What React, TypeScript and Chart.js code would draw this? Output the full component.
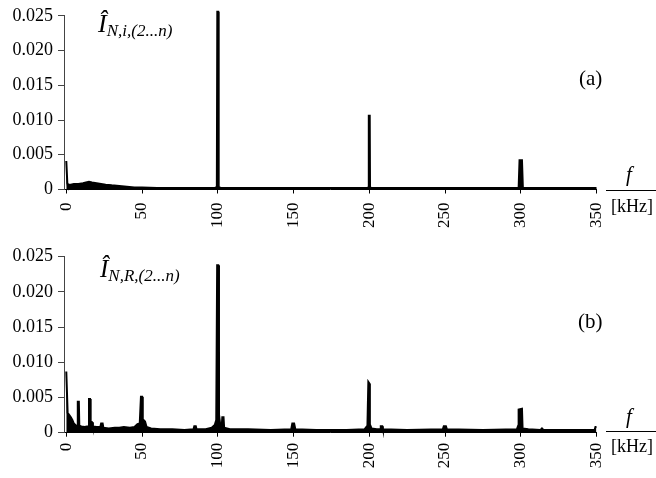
import React, { useEffect, useRef } from "react";
import { Chart, registerables } from "chart.js";

Chart.register(...registerables);

// Frequency axis (kHz) and y-axis ticks
const xTicks = [0, 50, 100, 150, 200, 250, 300, 350];
const yTicks = [0, 0.005, 0.01, 0.015, 0.02, 0.025];

// Panel (a): spectrum of I_N,i,(2...n)
const freqA = [
  0, 0.3, 0.7, 1, 3, 5, 8, 11, 13, 15,
  17, 20, 23, 26, 30, 35, 40, 45, 50, 60,
  70, 80, 90, 98, 99.4, 99.7, 100.3, 100.6, 102, 120,
  150, 180, 198, 199.5, 199.7, 200.3, 200.5, 202, 230, 260,
  290, 298.6, 299.2, 300.8, 301.4, 320, 350,
];
const ampA = [
  0.0041, 0.0041, 0.0009, 0.0007, 0.0007, 0.0008, 0.0008, 0.0009, 0.001, 0.0011,
  0.001, 0.0009, 0.0008, 0.0007, 0.0006, 0.0005, 0.0004, 0.0003, 0.0003, 0.0002,
  0.0002, 0.0002, 0.0002, 0.0002, 0.0004, 0.0256, 0.0256, 0.0004, 0.0002, 0.0002,
  0.0002, 0.0002, 0.0002, 0.0003, 0.0106, 0.0106, 0.0003, 0.0002, 0.0002, 0.0002,
  0.0002, 0.0002, 0.0042, 0.0042, 0.0002, 0.0002, 0.0002,
];

// Panel (b): spectrum of I_N,R,(2...n)
const freqB = [
  0, 0.4, 0.9, 2, 3, 4, 5, 6.5, 7.3, 7.6,
  8.3, 8.6, 10, 12, 14.6, 15, 15.7, 16.1, 17, 17.6,
  20, 22.5, 23, 24, 24.5, 28, 32, 35, 38, 42,
  45, 47, 48.5, 49.3, 50, 50.5, 52, 53, 56, 62,
  70, 78, 84, 84.5, 85.5, 86, 92, 96, 98, 99,
  99.6, 100.3, 100.8, 101.6, 102.6, 103, 103.8, 104.2, 108, 120,
  135, 148.5, 149.2, 150.4, 151.2, 165, 185, 197, 198.8, 199.4,
  200, 200.4, 201.5, 205, 207.3, 207.6, 208.6, 209, 225, 248.6,
  249.2, 250.6, 251.2, 275, 297.5, 298.3, 298.6, 300.8, 301.2, 305,
  313, 314, 315, 330, 348.8, 349.3, 350,
];
const ampB = [
  0.0087, 0.0087, 0.0028, 0.0025, 0.0022, 0.0018, 0.0013, 0.001, 0.001, 0.0044,
  0.0044, 0.001, 0.0009, 0.0008, 0.0009, 0.0048, 0.0048, 0.0016, 0.0015, 0.0009,
  0.0008, 0.0008, 0.0013, 0.0013, 0.0007, 0.0006, 0.0007, 0.0007, 0.0008, 0.0007,
  0.0008, 0.0012, 0.0013, 0.0051, 0.0051, 0.0019, 0.0016, 0.0008, 0.0006, 0.0005,
  0.0005, 0.0004, 0.0005, 0.0009, 0.0009, 0.0005, 0.0005, 0.0007, 0.0011, 0.0018,
  0.0238, 0.0238, 0.0026, 0.0012, 0.0008, 0.0022, 0.0022, 0.0007, 0.0005, 0.0005,
  0.0004, 0.0005, 0.0013, 0.0013, 0.0005, 0.0004, 0.0004, 0.0005, 0.001, 0.0072,
  0.007, 0.0012, 0.0006, 0.0005, 0.0005, 0.0009, 0.0009, 0.0005, 0.0004, 0.0005,
  0.0009, 0.0009, 0.0005, 0.0004, 0.0005, 0.001, 0.0033, 0.0034, 0.0006, 0.0005,
  0.0004, 0.0006, 0.0004, 0.0004, 0.0004, 0.0008, 0.0008,
];

const SERIF = '"Liberation Serif", "Times New Roman", serif';

type PanelProps = {
  freqs: number[];
  amps: number[];
  height: number;
  areaTop: number;
  areaBottom: number;
  labelPad: number;
};

function SpectrumPanel({ freqs, amps, height, areaTop, areaBottom, labelPad }: PanelProps) {
  const ref = useRef<HTMLCanvasElement | null>(null);
  useEffect(() => {
    if (!ref.current) return;
    const chart = new Chart(ref.current, {
      type: "line",
      data: {
        datasets: [
          {
            data: freqs.map((f, i) => ({ x: f, y: amps[i] })),
            borderColor: "#000",
            backgroundColor: "#000",
            borderWidth: 2,
            pointRadius: 0,
            fill: "origin",
            tension: 0,
            clip: false,
          },
        ],
      },
      options: {
        responsive: false,
        animation: false,
        events: [],
        layout: { padding: { top: areaTop, right: 59.5, left: 0, bottom: 0 } },
        plugins: {
          legend: { display: false },
          tooltip: { enabled: false },
        },
        scales: {
          x: {
            type: "linear",
            min: -1.5,
            max: 350,
            afterBuildTicks: (s: any) => {
              s.ticks = xTicks.map((v) => ({ value: v }));
            },
            afterFit: (s: any) => {
              s.height = height - areaBottom;
            },
            ticks: {
              minRotation: 90,
              maxRotation: 90,
              autoSkip: false,
              padding: labelPad,
              color: "#000",
              font: { family: SERIF, size: 17 },
              callback: (v: any) => String(v),
            },
            grid: { drawOnChartArea: false, drawTicks: true, tickLength: 4, color: "#000" },
            border: { color: "#000", width: 1 },
          },
          y: {
            type: "linear",
            min: 0,
            max: 0.025,
            afterBuildTicks: (s: any) => {
              s.ticks = yTicks.map((v) => ({ value: v }));
            },
            afterFit: (s: any) => {
              s.width = 64;
            },
            ticks: {
              padding: 5,
              color: "#000",
              font: { family: SERIF, size: 18 },
              callback: (v: any) => (Number(v) === 0 ? "0" : Number(v).toFixed(3)),
            },
            grid: { drawOnChartArea: false, drawTicks: true, tickLength: 6, color: "#444" },
            border: { color: "#444", width: 1 },
          },
        },
      },
    });
    return () => chart.destroy();
  }, [freqs, amps, height, areaTop, areaBottom, labelPad]);
  return <canvas ref={ref} width={656} height={height} style={{ display: "block" }} />;
}

const txt = (extra: React.CSSProperties): React.CSSProperties => ({
  position: "absolute",
  fontFamily: SERIF,
  lineHeight: 1,
  color: "#000",
  whiteSpace: "nowrap",
  ...extra,
});

export default function App() {
  return (
    <div
      style={{
        position: "absolute",
        left: 0,
        top: 0,
        width: 656,
        height: 478,
        background: "#fff",
        overflow: "hidden",
      }}
    >
      <div style={{ position: "absolute", left: 0, top: 0 }}>
        <SpectrumPanel freqs={freqA} amps={ampA} height={240} areaTop={14.5} areaBottom={189.5} labelPad={9} />
      </div>
      <div style={{ position: "absolute", left: 0, top: 240 }}>
        <SpectrumPanel freqs={freqB} amps={ampB} height={238} areaTop={16.7} areaBottom={192.7} labelPad={6} />
      </div>

      {/* Panel (a) annotations */}
      <div style={txt({ left: 98, top: 11, fontSize: 26, fontStyle: "italic" })}>
        Î
        <span style={{ fontSize: 17, verticalAlign: -4 }}>N,i,(2...n)</span>
      </div>
      <div style={txt({ left: 579, top: 68, fontSize: 21 })}>(a)</div>
      <div style={txt({ left: 626, top: 164, fontSize: 21, fontStyle: "italic" })}>f</div>
      <div style={{ position: "absolute", left: 606, top: 190, width: 50, height: 1, background: "#000" }} />
      <div style={txt({ left: 611, top: 197, fontSize: 18 })}>[kHz]</div>

      {/* Panel (b) annotations */}
      <div style={txt({ left: 100, top: 256, fontSize: 25, fontStyle: "italic" })}>
        Î
        <span style={{ fontSize: 17, verticalAlign: -4 }}>N,R,(2...n)</span>
      </div>
      <div style={txt({ left: 578, top: 311, fontSize: 21 })}>(b)</div>
      <div style={txt({ left: 626, top: 406, fontSize: 21, fontStyle: "italic" })}>f</div>
      <div style={{ position: "absolute", left: 606, top: 431, width: 50, height: 1, background: "#000" }} />
      <div style={txt({ left: 611, top: 437, fontSize: 18 })}>[kHz]</div>
    </div>
  );
}
